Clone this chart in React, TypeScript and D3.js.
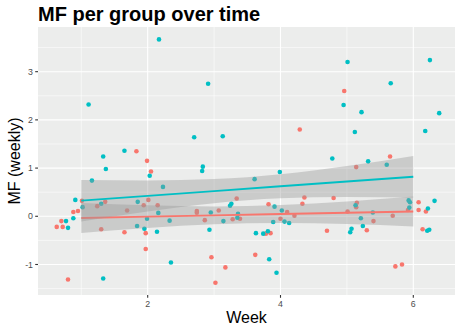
import React from "react";
import * as d3 from "d3";

// Jittered observations (week, MF) for each group
const redX = [1.83, 1.99, 2.05, 1.01, 1.24, 1.36, 2.01, 1.94, 2.15, 1.69, 0.95, 0.88, 0.70, 0.63, 0.72, 1.30, 1.97, 1.65, 0.80, 1.97, 2.96, 3.17, 3.02, 3.62, 5.73, 5.83, 3.34, 3.82, 4.36, 4.33, 2.74, 2.74, 3.07, 3.39, 3.28, 2.86, 4.10, 4.00, 4.21, 3.78, 3.85, 4.29, 4.96, 5.65, 5.14, 4.80, 6.08, 5.15, 5.14, 5.01, 5.92, 6.08, 6.19, 5.69, 5.40, 4.70, 5.30, 6.14];
const redY = [1.35, 1.15, 0.93, 0.32, 0.21, 0.30, 0.34, 0.23, 0.23, 0.12, 0.11, 0.09, -0.10, -0.22, -0.22, -0.27, -0.35, -0.33, -1.31, -0.68, -0.85, -1.06, -1.38, -0.80, -1.04, -1.00, 0.37, 0.25, 0.39, 0.26, 0.11, 0.075, 0.12, -0.05, -0.06, -0.08, 0.09, -0.05, 0.01, -0.36, -0.35, 1.80, 2.60, 1.24, 1.02, 0.38, 0.29, 0.28, 0.19, 0.10, 0.13, 0.13, 0.10, 0.01, -0.10, -0.30, -0.29, -0.27];

const tealX = [2.17, 1.11, 1.65, 1.33, 1.37, 2.03, 1.16, 2.23, 0.91, 1.02, 1.30, 1.85, 2.16, 0.88, 1.99, 2.33, 0.77, 0.80, 1.84, 1.95, 2.14, 1.33, 2.35, 3.83, 3.94, 2.91, 2.70, 3.13, 2.83, 2.82, 3.99, 3.61, 3.26, 3.24, 3.91, 2.95, 3.36, 3.35, 3.14, 4.02, 4.06, 4.13, 3.89, 2.93, 3.63, 3.74, 3.81, 5.01, 6.25, 5.66, 4.95, 5.22, 6.39, 5.12, 6.18, 4.78, 5.32, 5.60, 5.93, 5.95, 5.94, 6.32, 5.13, 5.39, 6.22, 5.21, 5.07, 5.05, 5.24, 6.21, 6.24];
const tealY = [3.67, 2.32, 1.36, 1.24, 0.98, 0.84, 0.74, 0.61, 0.34, 0.19, 0.26, 0.30, 0.07, -0.04, -0.05, -0.09, -0.10, -0.24, -0.20, -0.26, -0.32, -1.29, -0.96, -0.89, -1.17, 2.75, 1.64, 1.66, 1.03, 0.94, 0.92, 0.77, 0.26, 0.22, 0.20, 0.08, 0.05, -0.03, -0.10, 0.12, -0.11, -0.14, -0.12, -0.28, -0.35, -0.36, -0.31, 3.20, 3.24, 2.76, 2.31, 2.16, 2.14, 1.75, 1.77, 1.20, 1.14, 1.07, 0.33, 0.29, 0.18, 0.32, 0.23, 0.08, 0.16, -0.04, -0.26, -0.33, -0.20, -0.30, -0.28];

// Linear fits with confidence half-widths at each week
const fitWeeks = [1, 2, 3, 4, 5, 6];
const redFit = [-0.035, -0.008, 0.019, 0.046, 0.073, 0.10];
const redHalf = [0.31, 0.235, 0.186, 0.186, 0.235, 0.31];
const tealFit = [0.324, 0.423, 0.522, 0.622, 0.721, 0.82];
const tealHalf = [0.43, 0.322, 0.25, 0.25, 0.322, 0.43];

const xTicks = [2, 4, 6];
const xMinor = [1, 3, 5];
const yTicks = [-1, 0, 1, 2, 3];
const yMinor = [-1.5, -0.5, 0.5, 1.5, 2.5, 3.5];

const RED = "#F8766D";
const TEAL = "#00BFC4";

export default function App() {
  const W = 456, H = 331;
  const L = 38, R = 455, T = 27, B = 295;
  const x = d3.scaleLinear().domain([0.348, 6.628]).range([L, R]);
  const y = d3.scaleLinear().domain([-1.633, 3.927]).range([B, T]);
  const font = "'Liberation Sans', Arial, Helvetica, sans-serif";

  const area = (fit: number[], half: number[]) =>
    d3.area<number>()
      .x((_, i) => x(fitWeeks[i]))
      .y0((_, i) => y(fit[i] - half[i]))
      .y1((_, i) => y(fit[i] + half[i]))
      .curve(d3.curveMonotoneX)(fitWeeks) as string;
  const line = (fit: number[]) =>
    d3.line<number>().x((_, i) => x(fitWeeks[i])).y((_, i) => y(fit[i]))(fitWeeks) as string;

  const groups = [
    { X: redX, Y: redY, c: RED, fit: redFit, half: redHalf },
    { X: tealX, Y: tealY, c: TEAL, fit: tealFit, half: tealHalf },
  ];

  return (
    <svg width={W} height={H} style={{ position: "absolute", left: 0, top: 0, background: "#fff" }}>
      <rect x={L} y={T} width={R - L} height={B - T} fill="#ECEDEC" />
      {xMinor.map((v) => (
        <line key={"xm" + v} x1={x(v)} x2={x(v)} y1={T} y2={B} stroke="#fff" strokeWidth={0.55} />
      ))}
      {yMinor.map((v) => (
        <line key={"ym" + v} x1={L} x2={R} y1={y(v)} y2={y(v)} stroke="#fff" strokeWidth={0.55} />
      ))}
      {xTicks.map((v) => (
        <line key={"xg" + v} x1={x(v)} x2={x(v)} y1={T} y2={B} stroke="#fff" strokeWidth={1.1} />
      ))}
      {yTicks.map((v) => (
        <line key={"yg" + v} x1={L} x2={R} y1={y(v)} y2={y(v)} stroke="#fff" strokeWidth={1.1} />
      ))}
      {groups.map((g, gi) =>
        g.X.map((xv, i) => (
          <circle key={`p${gi}-${i}`} cx={x(xv)} cy={y(g.Y[i])} r={2.3} fill={g.c} />
        ))
      )}
      {groups.map((g, gi) => (
        <g key={"fit" + gi}>
          <path d={area(g.fit, g.half)} fill="#999999" fillOpacity={0.4} />
          <path d={line(g.fit)} fill="none" stroke={g.c} strokeWidth={1.9} />
        </g>
      ))}
      {xTicks.map((v) => (
        <g key={"xt" + v}>
          <line x1={x(v)} x2={x(v)} y1={B} y2={B + 2.8} stroke="#333" strokeWidth={1.1} />
          <text x={x(v)} y={B + 11.5} textAnchor="middle" fontSize={8.8} fill="#4D4D4D" fontFamily={font}>{v}</text>
        </g>
      ))}
      {yTicks.map((v) => (
        <g key={"yt" + v}>
          <line x1={L - 2.8} x2={L} y1={y(v)} y2={y(v)} stroke="#333" strokeWidth={1.1} />
          <text x={L - 5} y={y(v) + 3.1} textAnchor="end" fontSize={8.8} fill="#4D4D4D" fontFamily={font}>{v}</text>
        </g>
      ))}
      <text x={(L + R) / 2} y={323} textAnchor="middle" fontSize={16} fill="#000" fontFamily={font}>Week</text>
      <text transform={`translate(19.5, ${(T + B) / 2}) rotate(-90)`} textAnchor="middle" fontSize={16} fill="#000" fontFamily={font}>MF (weekly)</text>
      <text x={L} y={21} fontSize={20} fontWeight="bold" fill="#000" fontFamily={font}>MF per group over time</text>
    </svg>
  );
}
